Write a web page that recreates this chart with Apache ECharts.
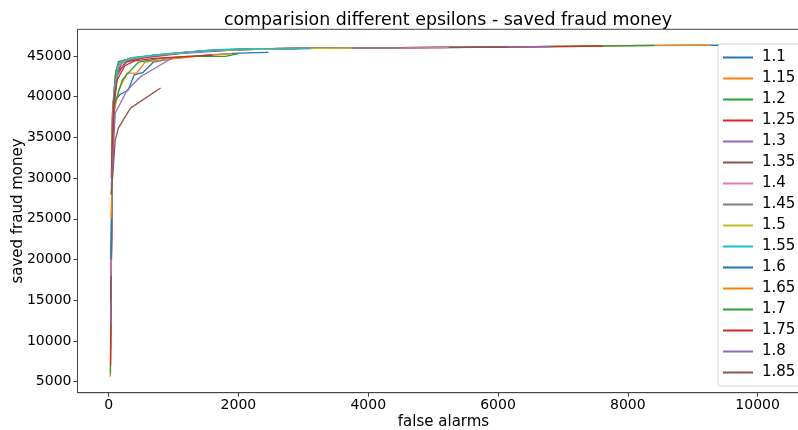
<!DOCTYPE html>
<html>
<head>
<meta charset="utf-8">
<script src="https://cdn.jsdelivr.net/npm/echarts@6/dist/echarts.min.js"></script>
<style>html,body{margin:0;padding:0;background:#fff}#c{width:798px;height:430px}</style>
</head>
<body>
<div id="c"></div>
<script>
const epsilons = ['1.1','1.15','1.2','1.25','1.3','1.35','1.4','1.45','1.5','1.55','1.6','1.65','1.7','1.75','1.8','1.85'];
const colors = ['#1f77b4','#ff7f0e','#2ca02c','#d62728','#9467bd','#8c564b','#e377c2','#7f7f7f','#bcbd22','#17becf','#1f77b4','#ff7f0e','#2ca02c','#d62728','#9467bd','#8c564b'];
const xTicks = [0, 2000, 4000, 6000, 8000, 10000];
const yTicks = [5000, 10000, 15000, 20000, 25000, 30000, 35000, 40000, 45000];

const s_1_1  = [[30,9000],[60,38000],[110,43000],[150,44300],[300,44600],[600,44900],[1000,45300],[1500,45700],[2000,45850],[3000,45950],[4000,46000],[5000,46050],[6000,46100],[7000,46180],[8000,46280],[9000,46320],[10300,46330]];
const s_1_15 = [[25,5600],[55,37000],[100,42500],[170,44200],[350,44700],[700,45000],[1200,45500],[2000,45850],[3000,45950],[4500,46020],[6000,46100],[7500,46230],[8500,46300],[9280,46320]];
const s_1_2  = [[28,6000],[60,38500],[110,43200],[200,44400],[400,44800],[900,45200],[1500,45650],[2500,45900],[3500,45980],[5000,46050],[6500,46150],[7600,46250],[8416,46310]];
const s_1_25 = [[30,7000],[60,38000],[120,42800],[220,44300],[450,44800],[1000,45300],[1800,45750],[3000,45950],[4500,46020],[6000,46080],[7000,46150],[7614,46220]];
const s_1_3  = [[32,12000],[65,37000],[130,42500],[250,44200],[500,44700],[1100,45300],[2000,45800],[3500,45970],[5000,46030],[6000,46090],[6812,46170]];
const s_1_35 = [[35,15000],[70,38000],[140,43000],[280,44300],[600,44900],[1300,45500],[2500,45900],[4000,46000],[5200,46040],[6149,46090]];
const s_1_4  = [[35,18000],[70,39000],[130,43500],[260,44500],[600,45000],[1400,45600],[2500,45900],[3800,45980],[4600,46000],[5239,46030]];
const s_1_45 = [[38,20000],[75,39500],[140,43800],[300,44600],[700,45100],[1500,45650],[2700,45900],[3700,45960],[4467,45990]];
const s_1_5  = [[40,22000],[80,40000],[150,44000],[320,44700],[800,45200],[1600,45700],[2800,45920],[3758,45970]];
const s_1_55 = [[40,24000],[80,40500],[160,44200],[350,44800],[900,45300],[1800,45800],[2500,45900],[3110,45950]];
const s_1_6  = [[35,20000],[70,37000],[102,39600],[179,40300],[300,40800],[393,42670],[533,43000],[690,44260],[1000,44700],[1500,45100],[2000,45350],[2462,45450]];
const s_1_65 = [[38,25000],[80,38000],[155,40800],[283,42900],[435,42900],[560,44260],[900,44600],[1400,45000],[1900,45300]];
const s_1_7  = [[40,28000],[90,39000],[210,42050],[300,42900],[460,44260],[800,44700],[1200,44950],[1800,44950],[2000,45300]];
const s_1_75 = [[40,30000],[85,40000],[130,42050],[250,43800],[400,44400],[700,44700],[1100,44900],[1600,45100]];
const s_1_8  = [[42,29000],[102,38000],[284,40800],[490,42450],[980,44750]];
const s_1_85 = [[40,28000],[102,34700],[150,36150],[336,38600],[800,41070]];

const seriesData = [s_1_1,s_1_15,s_1_2,s_1_25,s_1_3,s_1_35,s_1_4,s_1_45,s_1_5,s_1_55,s_1_6,s_1_65,s_1_7,s_1_75,s_1_8,s_1_85];

const font = 'DejaVu Sans';
const plain = v => String(v);
const chart = echarts.init(document.getElementById('c'), null, {renderer:'canvas'});
chart.setOption({
  animation: false,
  backgroundColor: '#fff',
  color: colors,
  title: {
    text: 'comparision different epsilons - saved fraud money',
    left: 443, top: 7, textAlign: 'center',
    textStyle: {fontFamily: font, fontSize: 17.4, fontWeight: 'normal', color: '#000'}
  },
  grid: {left: 77.5, top: 29.3, right: -11.5, bottom: 37.3, show: true, borderColor: '#444', borderWidth: 1, containLabel: false, outerBoundsMode: 'none'},
  legend: {
    orient: 'vertical', left: 718, top: 44,
    data: epsilons,
    icon: 'rect', itemWidth: 30, itemHeight: 2, itemGap: 4,
    padding: [5, 14, 5, 5],
    backgroundColor: '#fff', borderColor: '#d8d8d8', borderWidth: 1, borderRadius: 3,
    textStyle: {fontFamily: font, fontSize: 15, lineHeight: 17, color: '#000', padding: [0,0,0,4]}
  },
  xAxis: {
    type: 'value', min: -480, max: 10800,
    name: 'false alarms', nameLocation: 'middle', nameGap: 22, nameMoveOverlap: false,
    nameTextStyle: {fontFamily: font, fontSize: 15, color: '#000'},
    splitLine: {show: false},
    axisLine: {show: true, onZero: false, lineStyle: {color: '#444', width: 1}},
    axisTick: {show: true, inside: false, length: 4, lineStyle: {color: '#444'}, customValues: xTicks},
    axisLabel: {fontFamily: font, fontSize: 14, color: '#000', margin: 6, customValues: xTicks, formatter: plain}
  },
  yAxis: {
    type: 'value', min: 3650, max: 48280,
    name: 'saved fraud money', nameLocation: 'middle', nameGap: 52, nameRotate: 90, nameMoveOverlap: false,
    nameTextStyle: {fontFamily: font, fontSize: 15, color: '#000'},
    splitLine: {show: false},
    axisLine: {show: true, onZero: false, lineStyle: {color: '#444', width: 1}},
    axisTick: {show: true, inside: false, length: 4, lineStyle: {color: '#444'}, customValues: yTicks},
    axisLabel: {fontFamily: font, fontSize: 14, color: '#000', margin: 6, customValues: yTicks, formatter: plain}
  },
  series: seriesData.map((d, i) => ({
    name: epsilons[i], type: 'line', data: d, showSymbol: false, symbol: 'none',
    lineStyle: {width: 1.3, color: colors[i]}, itemStyle: {color: colors[i]},
    z: 2 + i
  }))
});
</script>
</body>
</html>
